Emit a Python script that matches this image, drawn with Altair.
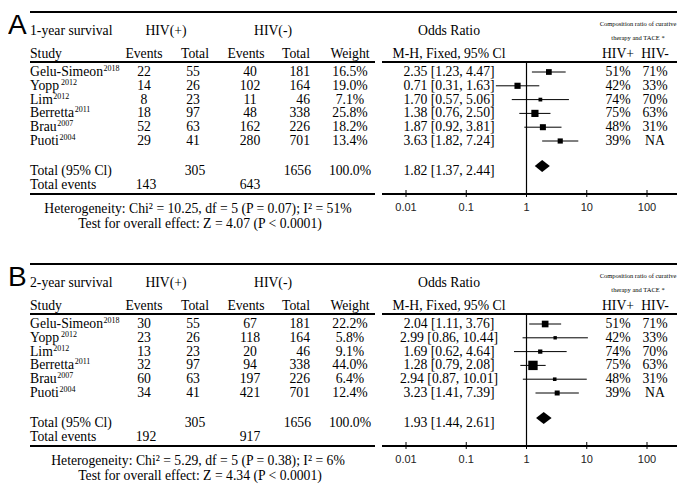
import altair as alt
import pandas as pd

# ---------------- data ----------------
studies = ["Gelu-Simeon", "Yopp", "Lim", "Berretta", "Brau", "Puoti"]
years = ["2018", "2012", "2012", "2011", "2007", "2004"]
hivp_total = [55, 26, 23, 97, 63, 41]
hivn_total = [181, 164, 46, 338, 226, 701]
comp_pos = ["51%", "42%", "74%", "75%", "48%", "39%"]
comp_neg = ["71%", "33%", "70%", "63%", "31%", "NA"]
sum_totals = [305, 1656]

panel_labels = ["A", "B"]
survival_labels = ["1-year survival", "2-year survival"]

ev_pos = [[22, 14, 8, 18, 52, 29], [30, 23, 13, 32, 60, 34]]
ev_neg = [[40, 102, 11, 48, 162, 280], [67, 118, 20, 94, 197, 421]]
weights = [[16.5, 19.0, 7.1, 25.8, 18.2, 13.4], [22.2, 5.8, 9.1, 44.0, 6.4, 12.4]]
or_est = [[2.35, 0.71, 1.70, 1.38, 1.87, 3.63], [2.04, 2.99, 1.69, 1.28, 2.94, 3.23]]
or_lo = [[1.23, 0.31, 0.57, 0.76, 0.92, 1.82], [1.11, 0.86, 0.62, 0.79, 0.87, 1.41]]
or_hi = [[4.47, 1.63, 5.06, 2.50, 3.81, 7.24], [3.76, 10.44, 4.64, 2.08, 10.01, 7.39]]
pooled = [[1.82, 1.37, 2.44], [1.93, 1.44, 2.61]]
total_events = [[143, 643], [192, 917]]
het_text = ["Heterogeneity: Chi² = 10.25, df = 5 (P = 0.07); I² = 51%",
            "Heterogeneity: Chi² = 5.29, df = 5 (P = 0.38); I² = 6%"]
test_text = ["Test for overall effect: Z = 4.07 (P < 0.0001)",
             "Test for overall effect: Z = 4.34 (P < 0.0001)"]
axis_ticks = [0.01, 0.1, 1, 10, 100]
axis_tick_labels = ["0.01", "0.1", "1", "10", "100"]

# ---------------- layout ----------------
W, H = 669, 483
SERIF = "Liberation Serif"
SANS = "Liberation Sans"
FS = 13.7
XS = alt.Scale(domain=[8, 8 + W], range=[0, W], nice=False, zero=False)
YS = alt.Scale(domain=[8, 8 + H], range=[0, H], nice=False, zero=False)
LOGS = alt.Scale(type="log", domain=[0.01, 100], range=[406 - 8, 647 - 8], nice=False)

X_L, X_R = 30, 690
C_EVP, C_TOTP, C_EVN, R_TOTN, C_W, C_OR, C_CP, C_CN = 144, 193, 250, 310, 350, 449, 618, 655
LEFT_END, RIGHT_START = 375, 382
PANEL_OFF = [0, 252]
EM = [5.333, 2.222, 1.667, 3.221, 1.944, 2.112]  # study-name widths in em (Times metrics)


def rows_y(top):
    return [top + 72 + 13.8 * i for i in range(6)]


texts = {"c": [], "l": [], "r": [], "sup": [], "small": [], "big": []}
hlines, vlines, forest, sq, diamond, ticks, ticklabels = [], [], [], [], [], [], []

for p in range(2):
    t = PANEL_OFF[p]
    ry = rows_y(t)
    y_top, y_h1, y_study, y_ul = t + 12, t + 31, t + 54, t + 62
    y_tot, y_tev, y_bot, y_lab, y_het, y_test = t + 171, t + 185, t + 194, t + 208, t + 209, t + 224

    texts["big"].append({"x": 8, "y": t + 33.5, "t": panel_labels[p]})
    texts["l"] += [{"x": X_L, "y": y_h1, "t": survival_labels[p]},
                   {"x": X_L, "y": y_study, "t": "Study"}]
    texts["c"] += [{"x": 166, "y": y_h1, "t": "HIV(+)"}, {"x": 273, "y": y_h1, "t": "HIV(-)"},
                   {"x": C_OR, "y": y_h1, "t": "Odds Ratio"},
                   {"x": C_EVP, "y": y_study, "t": "Events"}, {"x": C_TOTP + 2, "y": y_study, "t": "Total"},
                   {"x": C_EVN - 4, "y": y_study, "t": "Events"}, {"x": 296, "y": y_study, "t": "Total"},
                   {"x": C_W, "y": y_study, "t": "Weight"},
                   {"x": C_OR, "y": y_study, "t": "M-H, Fixed, 95% Cl"},
                   {"x": C_CP, "y": y_study, "t": "HIV+"}, {"x": C_CN, "y": y_study, "t": "HIV-"}]
    texts["small"] += [{"x": 638, "y": t + 24, "t": "Composition ratio of curative"},
                       {"x": 638, "y": t + 38, "t": "therapy and TACE *"}]
    for i in range(6):
        y = ry[i]
        texts["l"].append({"x": X_L, "y": y, "t": studies[i]})
        texts["sup"].append({"x": X_L + EM[i] * FS + 0.5, "y": y, "t": years[i]})
        texts["c"] += [{"x": C_EVP, "y": y, "t": str(ev_pos[p][i])},
                       {"x": C_TOTP, "y": y, "t": str(hivp_total[i])},
                       {"x": C_EVN, "y": y, "t": str(ev_neg[p][i])},
                       {"x": C_W, "y": y, "t": f"{weights[p][i]:.1f}%"},
                       {"x": C_OR, "y": y, "t": f"{or_est[p][i]:.2f} [{or_lo[p][i]:.2f}, {or_hi[p][i]:.2f}]"},
                       {"x": C_CP, "y": y, "t": comp_pos[i]},
                       {"x": C_CN, "y": y, "t": comp_neg[i]}]
        texts["r"].append({"x": R_TOTN, "y": y, "t": str(hivn_total[i])})
        forest.append({"est": or_est[p][i], "lo": or_lo[p][i], "hi": or_hi[p][i], "y": y})
        sq.append({"est": or_est[p][i], "w": weights[p][i], "y": y})
    texts["l"] += [{"x": X_L, "y": y_tot, "t": "Total (95% Cl)"},
                   {"x": X_L, "y": y_tev, "t": "Total events"}]
    texts["c"] += [{"x": C_TOTP + 2, "y": y_tot, "t": str(sum_totals[0])},
                   {"x": C_W, "y": y_tot, "t": "100.0%"},
                   {"x": C_OR, "y": y_tot, "t": f"{pooled[p][0]:.2f} [{pooled[p][1]:.2f}, {pooled[p][2]:.2f}]"},
                   {"x": C_EVP + 2, "y": y_tev, "t": str(total_events[p][0])},
                   {"x": C_EVN, "y": y_tev, "t": str(total_events[p][1])},
                   {"x": 198, "y": y_het, "t": het_text[p]},
                   {"x": 200, "y": y_test, "t": test_text[p]}]
    texts["r"].append({"x": R_TOTN + 1, "y": y_tot, "t": str(sum_totals[1])})

    # horizontal rules (thick)
    hlines += [{"x": X_L, "x2": X_R, "y": y_top},
               {"x": X_L, "x2": LEFT_END, "y": y_ul},
               {"x": RIGHT_START, "x2": X_R, "y": y_ul},
               {"x": X_L, "x2": LEFT_END, "y": y_bot},
               {"x": RIGHT_START, "x2": X_R, "y": y_bot}]
    vlines.append({"v": 1, "y": y_ul, "y2": y_bot})
    yd = y_tot - 5
    diamond += [{"x": pooled[p][1], "y": yd, "y2": yd},
                {"x": pooled[p][0], "y": yd - 6, "y2": yd + 6},
                {"x": pooled[p][2], "y": yd, "y2": yd}]
    for v, lab in zip(axis_ticks, axis_tick_labels):
        ticks.append({"v": v, "y": y_bot - 4, "y2": y_bot + 3})
        ticklabels.append({"v": v, "y": y_lab, "t": lab})


def df(rows):
    return pd.DataFrame(rows)


def txt(rows, align="center", size=FS, font=SERIF, dy=0, color="black", baseline="middle"):
    return alt.Chart(df(rows)).mark_text(
        align=align, baseline=baseline, fontSize=size, font=font, dy=dy, color=color
    ).encode(x=alt.X("x:Q", scale=XS, axis=None),
             y=alt.Y("y:Q", scale=YS, axis=None),
             text="t:N")


layers = [
    txt(texts["c"]),
    txt(texts["l"], align="left"),
    txt(texts["r"], align="right"),
    txt(texts["sup"], align="left", size=8, dy=-3),
    txt(texts["small"], size=6.5),
    txt(texts["big"], align="left", size=28, font=SANS, baseline="alphabetic"),
    alt.Chart(df(hlines)).mark_rule(color="black", strokeWidth=2).encode(
        x=alt.X("x:Q", scale=XS, axis=None), x2="x2:Q",
        y=alt.Y("y:Q", scale=YS, axis=None)),
    alt.Chart(df(vlines)).mark_rule(color="black", strokeWidth=1.2).encode(
        x=alt.X("v:Q", scale=LOGS, axis=None),
        y=alt.Y("y:Q", scale=YS, axis=None), y2="y2:Q"),
    alt.Chart(df(ticks)).mark_rule(color="black", strokeWidth=1).encode(
        x=alt.X("v:Q", scale=LOGS, axis=None),
        y=alt.Y("y:Q", scale=YS, axis=None), y2="y2:Q"),
    alt.Chart(df(ticklabels)).mark_text(font=SANS, fontSize=11, color="#222", baseline="middle").encode(
        x=alt.X("v:Q", scale=LOGS, axis=None),
        y=alt.Y("y:Q", scale=YS, axis=None), text="t:N"),
    alt.Chart(df(forest)).mark_rule(color="black", strokeWidth=1).encode(
        x=alt.X("lo:Q", scale=LOGS, axis=None), x2="hi:Q",
        y=alt.Y("y:Q", scale=YS, axis=None)),
    alt.Chart(df(sq)).mark_square(color="black", opacity=1, filled=True).encode(
        x=alt.X("est:Q", scale=LOGS, axis=None),
        y=alt.Y("y:Q", scale=YS, axis=None),
        size=alt.Size("w:Q", scale=alt.Scale(domain=[0, 100], range=[0, 200]), legend=None)),
]
for p in range(2):
    layers.append(
        alt.Chart(df(diamond[3 * p:3 * p + 3])).mark_area(color="black", opacity=1).encode(
            x=alt.X("x:Q", scale=LOGS, axis=None),
            y=alt.Y("y:Q", scale=YS, axis=None), y2="y2:Q"))

chart = alt.layer(*layers).resolve_scale(x="independent").properties(
    width=W, height=H, autosize=alt.AutoSizeParams(type="none"), padding=0,
    background="white"
).configure_view(stroke=None)

chart.save("out.html", embed_options={"renderer": "svg", "actions": False})
